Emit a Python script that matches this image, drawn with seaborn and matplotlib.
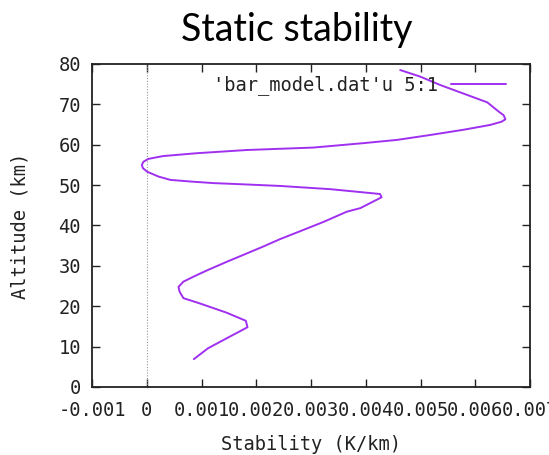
import matplotlib
matplotlib.use("Agg")
import matplotlib.pyplot as plt
import seaborn as sns
import pandas as pd

# Static stability profile (column 5 vs column 1 of bar_model.dat)
altitude_km = [6.9, 9.6, 12.5, 14.8, 16.4, 18.4, 20.7, 22.0, 23.6, 24.8, 26.1, 27.5,
               29.0, 31.0, 32.7, 34.8, 36.6, 38.9, 40.9, 43.4, 44.3, 47.0, 47.8, 48.2,
               49.0, 49.8, 50.2, 50.5, 50.9, 51.3, 52.1, 53.3, 54.2, 55.0, 55.8, 56.5,
               57.2, 57.9, 58.7, 59.3, 60.4, 61.2, 62.4, 63.7, 64.9, 65.7, 66.3, 67.3,
               68.2, 70.5, 72.7, 74.8, 76.9, 78.5]
stability = [0.00086, 0.00112, 0.00152, 0.00184, 0.00181, 0.00146, 0.00097, 0.00067,
             0.00060, 0.00058, 0.00067, 0.00088, 0.00112, 0.00146, 0.00176, 0.00213,
             0.00243, 0.00286, 0.00323, 0.00365, 0.00390, 0.00429, 0.00426, 0.00396,
             0.00335, 0.00243, 0.00176, 0.00122, 0.00079, 0.00043, 0.00022, 0.00001,
             -0.00007, -0.00009, -0.00006, 0.00003, 0.00030, 0.00091, 0.00183, 0.00304,
             0.00396, 0.00457, 0.00517, 0.00578, 0.00627, 0.00648, 0.00655, 0.00652,
             0.00643, 0.00622, 0.00578, 0.00536, 0.00499, 0.00463]

x_ticks = [-0.001, 0, 0.001, 0.002, 0.003, 0.004, 0.005, 0.006, 0.007]
x_tick_labels = ["-0.001", "0", "0.001", "0.002", "0.003", "0.004", "0.005", "0.006", "0.007"]
y_ticks = [0, 10, 20, 30, 40, 50, 60, 70, 80]
series_label = "'bar_model.dat'u 5:1"

df = pd.DataFrame({"stability": stability, "altitude": altitude_km})

sns.set_style("ticks")
plt.rcParams["font.family"] = ["DejaVu Sans Mono", "DejaVu Sans"]

fig = plt.figure(figsize=(5.49, 4.55), dpi=100)
ax = fig.add_axes([92 / 549, 68 / 455, 438 / 549, 323 / 455])

# zero reference line
ax.axvline(0, color="#999999", lw=0.8, ls=(0, (1, 1.5)), zorder=1)

sns.lineplot(data=df, x="stability", y="altitude", sort=False, estimator=None,
             color="#a030f0", lw=1.4, ax=ax, label=series_label, zorder=3)

ax.set_xlim(-0.001, 0.007)
ax.set_ylim(0, 80)
ax.set_xticks(x_ticks)
ax.set_xticklabels(x_tick_labels)
ax.set_yticks(y_ticks)

for s in ax.spines.values():
    s.set_visible(True)
    s.set_color("#222222")
    s.set_linewidth(1.3)

ax.tick_params(direction="in", length=6, width=1.0, top=True, right=True,
               labelsize=13.5, colors="#222222", pad=8)
ax.tick_params(axis="x", pad=10)

ax.set_xlabel("Stability (K/km)", fontsize=13.5, color="#222222", labelpad=11)
ax.set_ylabel("Altitude (km)", fontsize=13.5, color="#222222", labelpad=21)

leg = ax.legend(loc="upper right", frameon=False, markerfirst=False,
                fontsize=13.5, handlelength=2.9, handletextpad=0.7,
                borderaxespad=0.2, bbox_to_anchor=(0.97, 1.0))
for t in leg.get_texts():
    t.set_color("#222222")

fig.text(297 / 549, 1 - 30 / 455, "Static stability", ha="center", va="center",
         fontsize=27, family=["Lato", "DejaVu Sans"], color="black")

fig.savefig("out.png", dpi=100)
